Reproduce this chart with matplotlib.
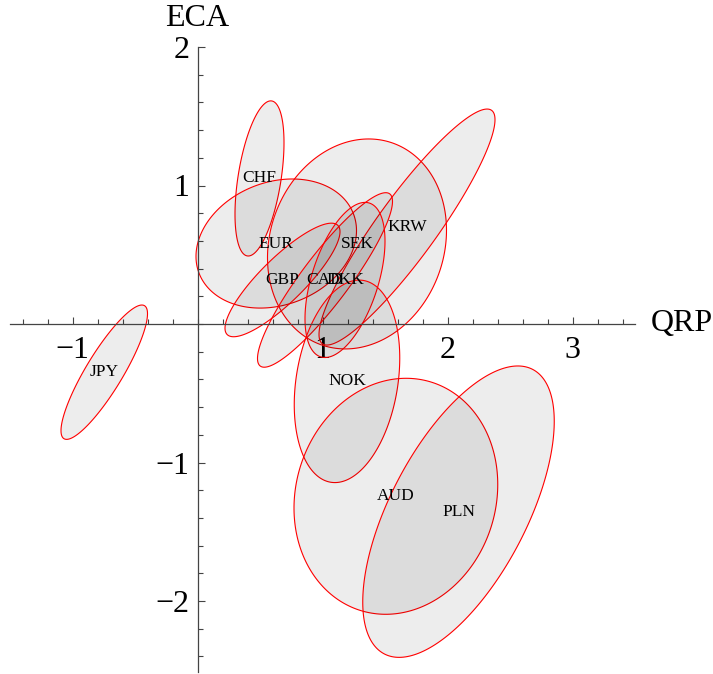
"""Currency ellipses in the QRP / ECA plane, Mathematica-style axes."""

import matplotlib

matplotlib.use("Agg")
import matplotlib.pyplot as plt
import numpy as np
from matplotlib.ticker import FixedLocator, MultipleLocator

# ellipse centre, half extent along each axis, and QRP/ECA correlation
currencies = ["JPY", "CHF", "EUR", "SEK", "KRW", "GBP", "CAD", "DKK", "NOK", "AUD", "PLN"]
center_qrp = [-0.746, 0.496, 0.630, 1.276, 1.676, 0.680, 1.020, 1.180, 1.196, 1.587, 2.088]
center_eca = [-0.348, 1.051, 0.581, 0.578, 0.700, 0.318, 0.318, 0.318, -0.414, -1.244, -1.355]
spread_qrp = [0.346, 0.196, 0.642, 0.716, 0.704, 0.460, 0.540, 0.320, 0.422, 0.815, 0.766]
spread_eca = [0.485, 0.560, 0.466, 0.758, 0.852, 0.410, 0.630, 0.560, 0.731, 0.852, 1.052]
correlation = [0.87, 0.46, 0.20, 0.13, 0.91, 0.85, 0.90, 0.50, 0.23, 0.10, 0.62]

x_ticks = [-1, 1, 2, 3]
y_ticks = [-2, -1, 1, 2]

SERIF = ["Liberation Serif", "DejaVu Serif"]


def ellipse_outline(cx, cy, sx, sy, rho, n=240):
    t = np.linspace(0.0, 2.0 * np.pi, n)
    phi = np.arccos(rho)
    return cx + sx * np.cos(t), cy + sy * np.cos(t - phi)


def main() -> None:
    plt.rcParams["font.family"] = SERIF
    plt.rcParams["axes.unicode_minus"] = True

    fig = plt.figure(figsize=(7.13, 6.74), dpi=100)
    # data -> pixel: x = 197.5 + 125 X, y = 324 - 138.5 Y
    x_lim = (-1.5, 3.5)
    y_lim = (-2.51, 2.0)
    left = (197.5 + 125 * x_lim[0]) / 713
    right = (197.5 + 125 * x_lim[1]) / 713
    top = 1 - (324 - 138.5 * y_lim[1]) / 674
    bottom = 1 - (324 - 138.5 * y_lim[0]) / 674
    ax = fig.add_axes([left, bottom, right - left, top - bottom])
    ax.set_xlim(*x_lim)
    ax.set_ylim(*y_lim)

    for name, cx, cy, sx, sy, rho in zip(
        currencies, center_qrp, center_eca, spread_qrp, spread_eca, correlation
    ):
        xs, ys = ellipse_outline(cx, cy, sx, sy, rho)
        ax.fill(
            xs,
            ys,
            facecolor=(0, 0, 0, 0.07),
            edgecolor="#ff0000",
            linewidth=0.8,
            clip_on=False,
            zorder=2,
        )
        ax.text(cx, cy, name, ha="center", va="center", fontsize=12.5, zorder=5)

    for side in ("top", "right"):
        ax.spines[side].set_visible(False)
    ax.spines["left"].set_position(("data", 0))
    ax.spines["bottom"].set_position(("data", 0))
    for side in ("left", "bottom"):
        ax.spines[side].set_color("#444444")
        ax.spines[side].set_linewidth(0.9)
        ax.spines[side].set_zorder(3)

    ax.xaxis.set_major_locator(FixedLocator(x_ticks))
    ax.yaxis.set_major_locator(FixedLocator(y_ticks))
    ax.xaxis.set_minor_locator(MultipleLocator(0.2))
    ax.yaxis.set_minor_locator(MultipleLocator(0.2))
    ax.tick_params(which="both", direction="in", color="#444444", width=0.8)
    ax.tick_params(which="major", length=5, labelsize=23)
    ax.tick_params(which="minor", length=3.5)
    ax.tick_params(axis="x", which="major", pad=9)
    ax.tick_params(axis="y", which="major", pad=6)
    ax.set_facecolor("none")

    ax.annotate(
        "QRP",
        xy=(1, 0),
        xycoords=ax.get_yaxis_transform(),
        xytext=(11, 0),
        textcoords="offset points",
        ha="left",
        va="center",
        fontsize=23,
    )
    ax.annotate(
        "ECA",
        xy=(0, 1),
        xycoords=ax.get_xaxis_transform(),
        xytext=(0, 10),
        textcoords="offset points",
        ha="center",
        va="bottom",
        fontsize=23,
    )

    fig.savefig("out.png", dpi=100)
    plt.close(fig)


if __name__ == "__main__":
    main()
